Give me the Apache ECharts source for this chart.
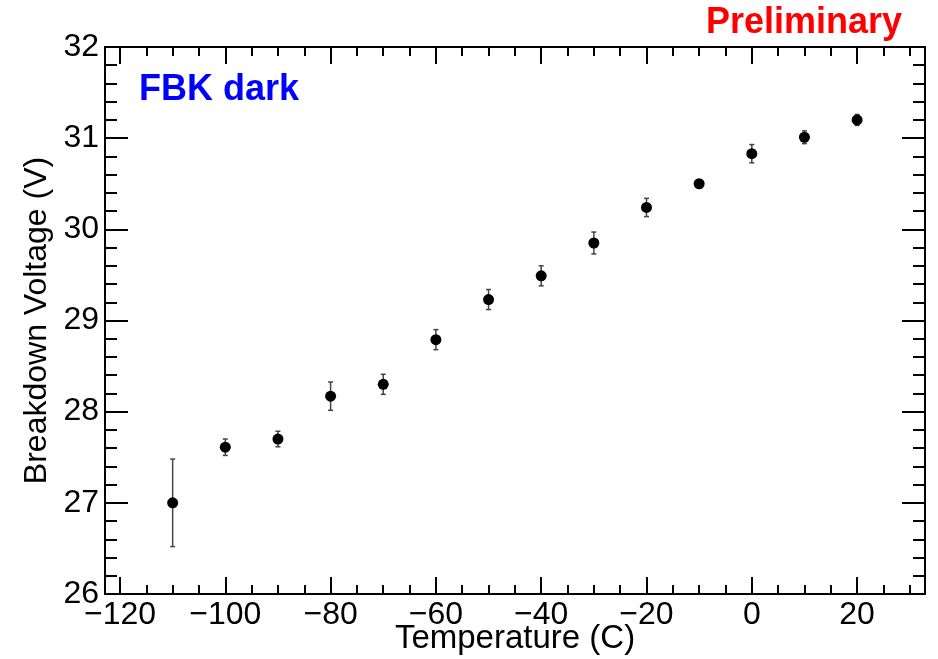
<!DOCTYPE html>
<html>
<head>
<meta charset="utf-8">
<script src="https://cdn.jsdelivr.net/npm/echarts@6/dist/echarts.min.js"></script>
<style>
html,body{margin:0;padding:0;background:#fff;}
#chart{width:938px;height:659px;}
</style>
</head>
<body>
<div id="chart"></div>
<script>
// ---- data ----
const temperature = [-110, -100, -90, -80, -70, -60, -50, -40, -30, -20, -10, 0, 10, 20];
const breakdownV  = [27.00, 27.61, 27.70, 28.17, 28.30, 28.79, 29.23, 29.49, 29.85, 30.24, 30.50, 30.83, 31.01, 31.20];
const breakdownErr = [0.48, 0.09, 0.085, 0.155, 0.11, 0.11, 0.11, 0.11, 0.12, 0.10, 0.02, 0.10, 0.07, 0.06];

// ---- axis ticks ----
const xMajorTicks = [-120, -100, -80, -60, -40, -20, 0, 20];
const yMajorTicks = [26, 27, 28, 29, 30, 31, 32];
const xMin = -122.85, xMax = 32.9;
const yMin = 26, yMax = 32;

const xMinorTicks = [];
for (let v = -120; v <= 30; v += 5) xMinorTicks.push(v);
const yMinorTicks = [];
for (let i = 0; i <= 30; i++) yMinorTicks.push(Math.round((26 + i * 0.2) * 10) / 10);

const FONT = "'Liberation Sans', Arial, Helvetica, sans-serif";
const chart = echarts.init(document.getElementById('chart'));

function xAxisDef(pos, ticks, len, labels, line) {
  return {
    type: 'value', position: pos, min: xMin, max: xMax,
    splitLine: { show: false },
    axisLine: { show: line, onZero: false, lineStyle: { color: '#000', width: 2 } },
    axisTick: { show: true, inside: true, length: len, customValues: ticks, lineStyle: { color: '#000', width: 2 } },
    axisLabel: labels ? {
      show: true, customValues: xMajorTicks, margin: 5, color: '#000', fontSize: 32, fontFamily: FONT,
      formatter: v => String(v).replace('-', '\u2212')
    } : { show: false },
    name: labels ? 'Temperature (C)' : '',
    nameLocation: 'middle', nameGap: 28, nameMoveOverlap: false,
    nameTextStyle: { color: '#000', fontSize: 33, fontFamily: FONT }
  };
}
function yAxisDef(pos, ticks, len, labels, line) {
  return {
    type: 'value', position: pos, min: yMin, max: yMax,
    splitLine: { show: false },
    axisLine: { show: line, onZero: false, lineStyle: { color: '#000', width: 2 } },
    axisTick: { show: true, inside: true, length: len, customValues: ticks, lineStyle: { color: '#000', width: 2 } },
    axisLabel: labels ? {
      show: true, customValues: yMajorTicks, margin: 6, color: '#000', fontSize: 32, fontFamily: FONT
    } : { show: false },
    name: labels ? 'Breakdown Voltage (V)' : '',
    nameLocation: 'middle', nameGap: 52, nameMoveOverlap: false,
    nameTextStyle: { color: '#000', fontSize: 32, fontFamily: FONT }
  };
}

const points = temperature.map((t, i) => [t, breakdownV[i]]);
const errData = temperature.map((t, i) => [t, breakdownV[i] - breakdownErr[i], breakdownV[i] + breakdownErr[i]]);

chart.setOption({
  animation: false,
  backgroundColor: '#fff',
  grid: { left: 105, right: 13, top: 47, bottom: 65, containLabel: false, outerBoundsMode: 'none' },
  xAxis: [
    xAxisDef('bottom', xMajorTicks, 17, true, true),
    xAxisDef('bottom', xMinorTicks, 9, false, false),
    xAxisDef('top', xMajorTicks, 17, false, true),
    xAxisDef('top', xMinorTicks, 9, false, false)
  ],
  yAxis: [
    yAxisDef('left', yMajorTicks, 23, true, true),
    yAxisDef('left', yMinorTicks, 12, false, false),
    yAxisDef('right', yMajorTicks, 23, false, true),
    yAxisDef('right', yMinorTicks, 12, false, false)
  ],
  graphic: [
    { type: 'text', left: 139, top: 72, style: { text: 'FBK dark', fill: '#0000ff', font: 'bold 36px ' + FONT } },
    { type: 'text', right: 36, top: 5, style: { text: 'Preliminary', fill: '#ff0000', font: 'bold 36px ' + FONT } }
  ],
  series: [
    {
      type: 'custom', xAxisIndex: 0, yAxisIndex: 0, data: errData, z: 2,
      renderItem: function (params, api) {
        const x = api.value(0);
        const lo = api.coord([x, api.value(1)]);
        const hi = api.coord([x, api.value(2)]);
        const cw = 2.5;
        const st = { stroke: '#444', lineWidth: 1.5 };
        return {
          type: 'group', children: [
            { type: 'line', shape: { x1: lo[0], y1: lo[1], x2: hi[0], y2: hi[1] }, style: st },
            { type: 'line', shape: { x1: lo[0] - cw, y1: lo[1], x2: lo[0] + cw, y2: lo[1] }, style: st },
            { type: 'line', shape: { x1: hi[0] - cw, y1: hi[1], x2: hi[0] + cw, y2: hi[1] }, style: st }
          ]
        };
      }
    },
    {
      type: 'scatter', xAxisIndex: 0, yAxisIndex: 0, data: points, z: 3,
      symbol: 'circle', symbolSize: 11,
      itemStyle: { color: '#000', opacity: 1 }
    }
  ]
});
</script>
</body>
</html>
